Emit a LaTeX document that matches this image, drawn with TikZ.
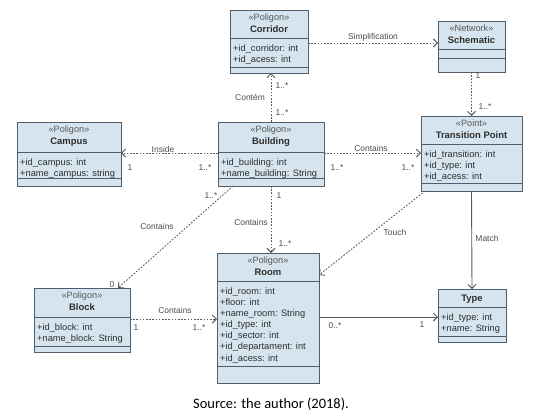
\documentclass[tikz,border=0pt]{standalone}
\usepackage{fontspec}
\setmainfont{Liberation Sans}
\newfontfamily\capfont{Carlito}
\usetikzlibrary{arrows.meta,calc}
\definecolor{boxfill}{HTML}{D5E4EE}
\definecolor{boxdraw}{HTML}{4F5E6A}
\definecolor{txt}{HTML}{2E2E2E}
\definecolor{lnk}{HTML}{5A5A5A}
\tikzset{
 clsbox/.style={draw=boxdraw, fill=boxfill, line width=1bp, inner sep=0pt, outer sep=0pt, rectangle},
 clsline/.style={draw=boxdraw, line width=1bp},
 stereo/.style={font=\fontsize{9.2}{11}\selectfont, text=txt!80, inner sep=0pt, anchor=base},
 ctitle/.style={font=\fontsize{9.5}{11}\selectfont\bfseries, text=txt, inner sep=0pt, anchor=base},
 attrs/.style={font=\fontsize{9.3}{11.2}\selectfont, text=txt, inner sep=0pt, anchor=north west, align=left},
 lbl/.style={font=\fontsize{8.5}{10}\selectfont, text=txt!85, inner sep=0pt},
 dep/.style={draw=lnk, line width=0.9bp, dash pattern=on 1.6bp off 1.6bp, -{Straight Barb[length=4bp,width=8bp]}},
 assoc/.style={draw=lnk, line width=0.9bp, -{Straight Barb[length=4bp,width=8bp]}},
}
\newcommand{\umlbox}[7]{%
  \node[clsbox, minimum width=#4bp, minimum height=#5bp, anchor=north west] (#1) at (#2,#3) {};
  \draw[clsline] ($(#1.north west)+(0,#6)$) -- ($(#1.north east)+(0,#6)$);
  \draw[clsline] ($(#1.north west)+(0,#7)$) -- ($(#1.north east)+(0,#7)$);
}
\newcommand{\umlhead}[3]{%
  \node[stereo] (#1-st) at ($(#1.north)+(0,10.5)$) {«#2»};
  \node[ctitle] (#1-ti) at ($(#1.north)+(0,22.5)$) {#3};
}
\newcommand{\umlattr}[3]{%
  \node[attrs] (#1-at) at ($(#1.north west)+(3,#2+6.2)$) {#3};
}
\begin{document}
\begin{tikzpicture}[x=1bp,y=-1bp]
\fill[white] (0,0) rectangle (539,417);
\useasboundingbox (0,0) rectangle (539,417);

% classes
\umlbox{corridor}{230}{10}{78}{63}{28}{57}
\umlhead{corridor}{Poligon}{Corridor}
\umlattr{corridor}{28}{+id\_corridor: int\\+id\_acess: int}

\umlbox{schematic}{438}{21}{67}{51}{28}{37}
\umlhead{schematic}{Network}{Schematic}

\umlbox{campus}{17}{122}{104}{64}{30}{56}
\umlhead{campus}{Poligon}{Campus}
\umlattr{campus}{30}{+id\_campus: int\\+name\_campus: string}

\umlbox{building}{218}{122}{106}{64}{30}{56}
\umlhead{building}{Poligon}{Building}
\umlattr{building}{30}{+id\_building: int\\+name\_building: String}

\umlbox{tp}{421}{116}{101}{75}{28}{67}
\umlhead{tp}{Point}{Transition Point}
\umlattr{tp}{28}{+id\_transition: int\\+id\_type: int\\+id\_acess: int}

\umlbox{block}{34}{288}{96}{64}{29}{58}
\umlhead{block}{Poligon}{Block}
\umlattr{block}{29}{+id\_block: int\\+name\_block: String}

\umlbox{room}{217}{253}{102}{130}{28}{113}
\umlhead{room}{Poligon}{Room}
\umlattr{room}{28}{+id\_room: int\\+floor: int\\+name\_room: String\\+id\_type: int\\+id\_sector: int\\+id\_departament: int\\+id\_acess: int}

\umlbox{type}{438}{289}{68}{53}{18}{47}
\node[ctitle] (type-ti) at ($(type.north)+(0,12.5)$) {Type};
\umlattr{type}{18}{+id\_type: int\\+name: String}

% connectors
\draw[dep] (corridor.east |- 0,43) -- (schematic.west |- 0,43);
\node[lbl] (l-simp) at (373,37) {Simplification};

\draw[dep] (building.north) -- (building.north |- corridor.south);
\node[lbl] (l-contem) at (250,97) {Contém};
\node[lbl] (m-cb1) at (282,86) {1..*};
\node[lbl] (m-cb2) at (282,113) {1..*};

\draw[dep] (schematic.south) -- (tp.north);
\node[lbl] (m-st1) at (478,76) {1};
\node[lbl] (m-st2) at (485,107) {1..*};

\coordinate (bL) at ([yshift=-31bp]building.north west);
\coordinate (bR) at ([yshift=-31bp]building.north east);
\draw[dep] (bL) -- (bL -| campus.east);
\node[lbl] (l-inside) at (163,149) {Inside};
\node[lbl] (m-ic1) at (130,168) {1};
\node[lbl] (m-ic2) at (205,168) {1..*};

\draw[dep] (bR) -- (bR -| tp.west);
\node[lbl] (l-cont1) at (371,148) {Contains};
\node[lbl] (m-bt1) at (337,168) {1..*};
\node[lbl] (m-bt2) at (408,168) {1..*};

\draw[dep] ([xshift=15bp]building.south west) -- ([xshift=-12bp]block.north east);
\node[lbl] (l-cont2) at (157,226) {Contains};
\node[lbl] (m-bb1) at (211,196) {1..*};
\node[lbl] (m-bb2) at (112,285) {0};

\draw[dep] (building.south) -- (building.south |- room.north);
\node[lbl] (l-cont3) at (251,222) {Contains};
\node[lbl] (m-br1) at (279,196) {1};
\node[lbl] (m-br2) at (285,244) {1..*};

\coordinate (kR) at ([yshift=-31bp]block.north east);
\draw[dep] (kR) -- (kR -| room.west);
\node[lbl] (l-cont4) at (175,310) {Contains};
\node[lbl] (m-kr1) at (136,328) {1};
\node[lbl] (m-kr2) at (199,328) {1..*};

\draw[dep] ([xshift=4bp]tp.south west) -- ([yshift=-22bp]room.north east);
\node[lbl] (l-touch) at (395,232) {Touch};

\draw[assoc] (tp.south) -- (type.north);
\node[lbl] (l-match) at (487,238) {Match};

\coordinate (tA) at ([yshift=-28bp]type.north west);
\draw[assoc] (tA -| room.east) -- (tA);
\node[lbl] (m-rt1) at (335,326) {0..*};
\node[lbl] (m-rt2) at (422,325) {1};

\node[font=\capfont\fontsize{14.5}{16}\selectfont, inner sep=0pt] (cap) at (271,404) {Source: the author (2018).};
\end{tikzpicture}
\end{document}
